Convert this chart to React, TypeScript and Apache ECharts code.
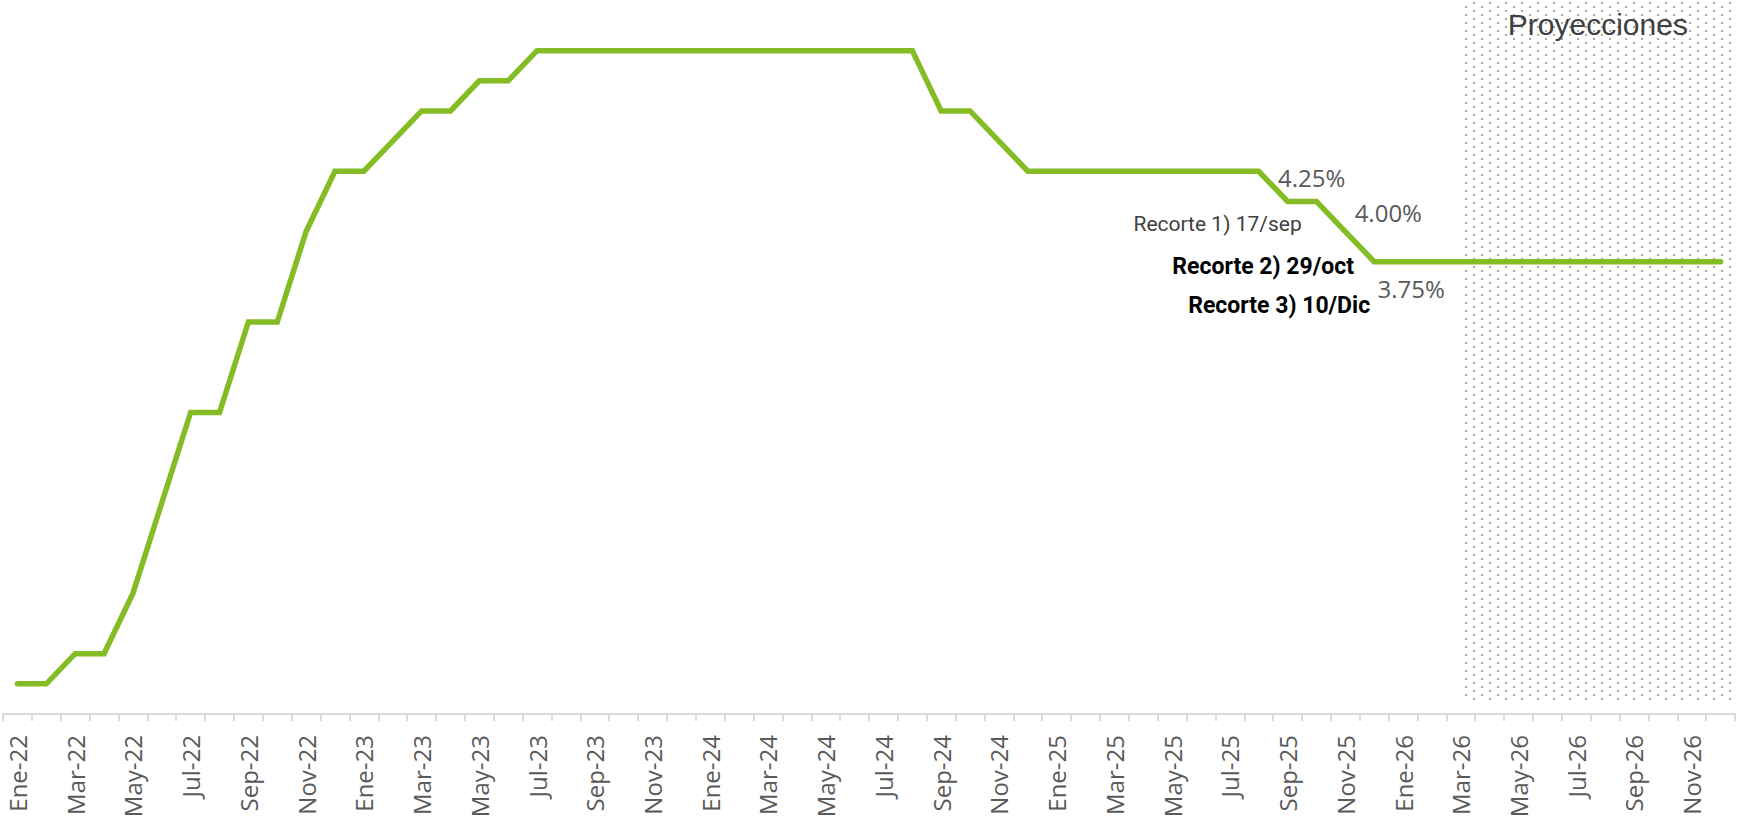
import React, { useEffect, useRef } from "react";
import * as echarts from "echarts";

// Month / year tick labels (Spanish)
const MONTHS = ["Ene", "Feb", "Mar", "Abr", "May", "Jun", "Jul", "Ago", "Sep", "Oct", "Nov", "Dic"];
const YEARS = ["22", "23", "24", "25", "26"];
const categories: string[] = YEARS.flatMap((y) => MONTHS.map((m) => `${m}-${y}`));

// Policy rate (%) by month
const rate2022 = [0.25, 0.25, 0.5, 0.5, 1.0, 1.75, 2.5, 2.5, 3.25, 3.25, 4.0, 4.5];
const rate2023 = [4.5, 4.75, 5.0, 5.0, 5.25, 5.25, 5.5, 5.5, 5.5, 5.5, 5.5, 5.5];
const rate2024 = [5.5, 5.5, 5.5, 5.5, 5.5, 5.5, 5.5, 5.5, 5.0, 5.0, 4.75, 4.5];
const rate2025 = [4.5, 4.5, 4.5, 4.5, 4.5, 4.5, 4.5, 4.5, 4.25, 4.25, 4.0, 3.75];
const rate2026 = [3.75, 3.75, 3.75, 3.75, 3.75, 3.75, 3.75, 3.75, 3.75, 3.75, 3.75, 3.75];
const rates = [...rate2022, ...rate2023, ...rate2024, ...rate2025, ...rate2026];

const projectionStart = "Mar-26";
const projectionLabel = "Proyecciones";

// Annotations anchored to a month on the line
const annotations = [
  { text: "4.25%", anchor: "Sep-25", dx: 24, dy: -24, kind: "pct" },
  { text: "4.00%", anchor: "Nov-25", dx: 43, dy: -19, kind: "pct" },
  { text: "3.75%", anchor: "Dic-25", dx: 37, dy: 27, kind: "pct" },
  { text: "Recorte 1) 17/sep", anchor: "Sep-25", dx: -70, dy: 23, kind: "note" },
  { text: "Recorte 2) 29/oct", anchor: "Dic-25", dx: -111, dy: 5, kind: "bold" },
  { text: "Recorte 3) 10/Dic", anchor: "Dic-25", dx: -95, dy: 44, kind: "bold" },
];

const GREEN = "#84BC26";

function makeDots(): HTMLCanvasElement {
  const c = document.createElement("canvas");
  c.width = 16;
  c.height = 8;
  const ctx = c.getContext("2d")!;
  ctx.fillStyle = "#a6a6a6";
  ctx.fillRect(1, 2, 2, 2);
  ctx.fillRect(9, 6, 2, 2);
  return c;
}

export default function App() {
  const ref = useRef<HTMLDivElement>(null);

  useEffect(() => {
    if (!ref.current) return;
    const chart = echarts.init(ref.current, null, { renderer: "svg" });
    chart.setOption({
      animation: false,
      backgroundColor: "#ffffff",
      grid: { left: 3, right: 7, top: 20.5, bottom: 108 },
      xAxis: {
        type: "category",
        data: categories,
        boundaryGap: true,
        axisLine: { lineStyle: { color: "#d9d9d9", width: 2 } },
        axisTick: { show: true, interval: 0, length: 7, lineStyle: { color: "#d9d9d9", width: 2 } },
        axisLabel: {
          interval: 1,
          rotate: 90,
          margin: 21,
          color: "#595959",
          fontFamily: "Open Sans",
          fontSize: 24,
        },
        splitLine: { show: false },
      },
      yAxis: {
        type: "value",
        min: 0,
        max: 5.75,
        show: false,
        splitLine: { show: false },
      },
      series: [
        {
          type: "line",
          data: rates,
          symbol: "none",
          z: 5,
          lineStyle: { color: GREEN, width: 5.5, cap: "round", join: "miter" },
          itemStyle: { color: GREEN },
        },
      ],
    });

    const px = (cat: string) => chart.convertToPixel({ xAxisIndex: 0 }, cat) as number;
    const py = (v: number) => chart.convertToPixel({ yAxisIndex: 0 }, v) as number;
    const band = px(categories[1]) - px(categories[0]);
    const left = px(projectionStart);
    const right = px(categories[categories.length - 1]) + band / 2;
    const bottom = py(0.1);

    const elements: any[] = [
      {
        type: "rect",
        z: 0,
        shape: { x: left, y: 0, width: right - left, height: bottom },
        style: { fill: { image: makeDots(), repeat: "repeat" } as any },
        silent: true,
      },
      {
        type: "text",
        z: 10,
        x: (left + right) / 2,
        y: 24,
        style: {
          text: projectionLabel,
          fill: "#404040",
          fontFamily: "Liberation Sans",
          fontSize: 30,
          align: "center",
          verticalAlign: "middle",
        },
      },
    ];

    annotations.forEach((a) => {
      const idx = categories.indexOf(a.anchor);
      const x = px(a.anchor);
      const y = py(rates[idx]);
      const style: any =
        a.kind === "pct"
          ? { fill: "#595959", fontFamily: "Open Sans", fontSize: 24 }
          : a.kind === "note"
          ? { fill: "#404040", fontFamily: "Roboto", fontSize: 21 }
          : { fill: "#000000", fontFamily: "Roboto", fontSize: 23, fontWeight: "bold" };
      elements.push({
        type: "text",
        z: 10,
        x: x + a.dx,
        y: y + a.dy,
        style: { text: a.text, align: "center", verticalAlign: "middle", ...style },
      });
    });

    chart.setOption({ graphic: { elements } });

    return () => chart.dispose();
  }, []);

  return (
    <div
      ref={ref}
      style={{ position: "absolute", left: 0, top: 0, width: 1742, height: 822, background: "#fff" }}
    />
  );
}
